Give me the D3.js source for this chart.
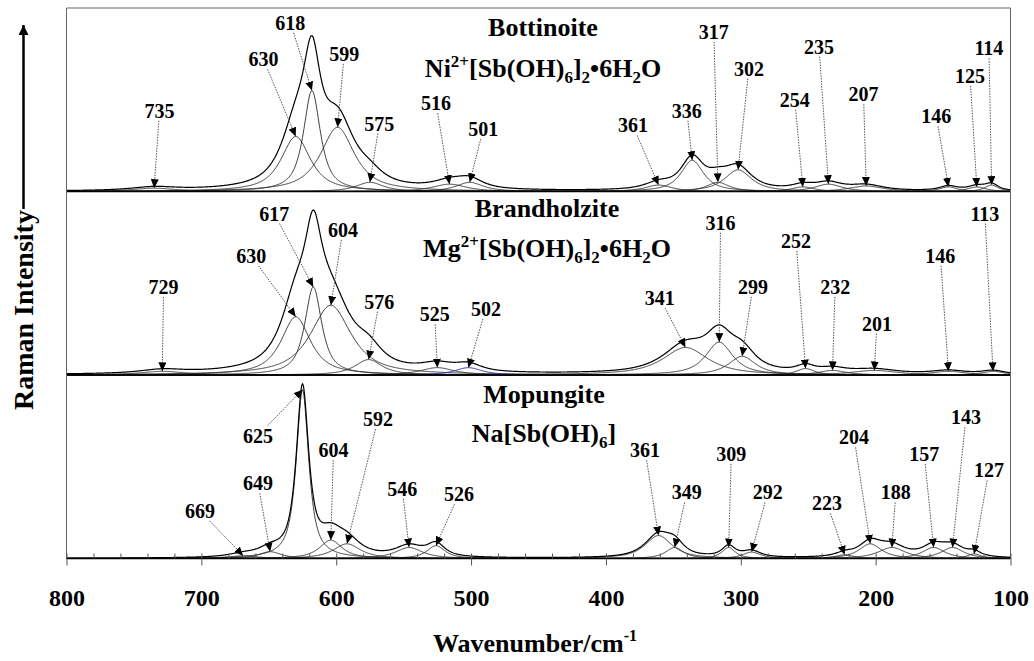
<!DOCTYPE html>
<html>
<head>
<meta charset="utf-8">
<script src="https://cdn.jsdelivr.net/npm/d3@7"></script>
<style>
  body { margin: 0; background: #fff; }
  svg { display: block; font-family: "Liberation Serif", "Times New Roman", serif; font-weight: bold; }
</style>
</head>
<body>
<svg id="chart" width="1034" height="661"></svg>
<script>
// ---- data ----
// band centres (cm-1), band heights (% of panel height), half widths (cm-1)
const bottCentres = [735, 630, 618, 599, 575, 516, 501, 361, 336, 317, 302, 254, 235, 207, 146, 125, 114];
const bottHeights = [1.8, 30, 55, 35, 5, 4, 5, 3.5, 17, 5, 11.8, 2.5, 4, 3, 2.5, 2.5, 3.5];
const bottWidths  = [20, 13, 7.5, 15, 12, 15, 12, 12, 10, 10, 12, 10, 12, 15, 8, 8, 6];

const brandCentres = [729, 630, 617, 604, 576, 525, 502, 341, 316, 299, 252, 232, 201, 146, 113];
const brandHeights = [2, 31.7, 48, 38, 8.4, 4, 4, 15, 17.9, 10.2, 3.5, 2.5, 2.5, 2, 2];
const brandWidths  = [20, 13, 7.5, 18, 12, 15, 12, 20, 12, 12, 8, 12, 20, 15, 10];

const mopCentres = [669, 649, 625, 604, 592, 546, 526, 361, 349, 309, 292, 223, 204, 188, 157, 143, 127];
const mopHeights = [1.5, 3.7, 92, 10, 8, 6, 7, 12.5, 6, 6, 3.5, 2, 8, 6, 6, 6, 2.5];
const mopWidths  = [12, 10, 5.5, 10, 12, 12, 8, 12, 8, 6, 8, 8, 10, 12, 10, 10, 6];

// label anchor points (wavenumber, % of panel height)
const bottLabelWn  = [731, 654, 634, 594, 568, 526, 491, 380, 340, 320, 294, 260, 242, 209, 155, 130, 116];
const bottLabelPct = [44, 72, 92, 75, 37, 48, 34, 36, 44, 87, 67, 50, 79, 53, 41, 63, 78];
const brandLabelWn  = [728, 663, 646, 595, 568, 527, 489, 360, 315, 291, 259, 230, 199, 152, 119];
const brandLabelPct = [48, 65, 88, 79, 40, 33, 36, 42, 83, 48, 73, 48, 28, 65, 88];
const mopLabelWn  = [701, 658, 658, 602, 569, 551, 509, 371, 340, 307, 280, 236, 216, 185, 164, 133, 116];
const mopLabelPct = [26, 41, 67, 59, 76, 38, 35, 59, 36, 57, 36, 30, 66, 36, 57, 77, 48];

const minerals = ["Bottinoite", "Brandholzite", "Mopungite"];
const xMajor = [800, 700, 600, 500, 400, 300, 200, 100];

// formula pieces: [text, "n" normal | "sup" | "sub"]
const formulas = [
  [["Ni", "n"], ["2+", "sup"], ["[Sb(OH)", "n"], ["6", "sub"], ["]", "n"], ["2", "sub"], ["\u20226H", "n"], ["2", "sub"], ["O", "n"]],
  [["Mg", "n"], ["2+", "sup"], ["[Sb(OH)", "n"], ["6", "sub"], ["]", "n"], ["2", "sub"], ["\u20226H", "n"], ["2", "sub"], ["O", "n"]],
  [["Na[Sb(OH)", "n"], ["6", "sub"], ["]", "n"]]
];

const panels = [
  { centres: bottCentres, heights: bottHeights, widths: bottWidths, lw: bottLabelWn, lp: bottLabelPct, blue: -1 },
  { centres: brandCentres, heights: brandHeights, widths: brandWidths, lw: brandLabelWn, lp: brandLabelPct, blue: 6 },
  { centres: mopCentres, heights: mopHeights, widths: mopWidths, lw: mopLabelWn, lp: mopLabelPct, blue: -1 }
];

// ---- layout ----
const plotLeft = 66.5, plotRight = 1010.5, plotTop = 8, panelH = 183.5;
const titleX = [543, 547, 544];
const titleY = [36, 217, 403];
const formulaY = [77, 257, 442];

const svg = d3.select("#chart");
const x = d3.scaleLinear().domain([800, 100]).range([plotLeft, plotRight]);

const defs = svg.append("defs");
defs.append("marker")
  .attr("id", "tip")
  .attr("markerUnits", "userSpaceOnUse")
  .attr("viewBox", "0 0 9 8")
  .attr("markerWidth", 9).attr("markerHeight", 8)
  .attr("refX", 9).attr("refY", 4)
  .attr("orient", "auto")
  .append("path").attr("d", "M0,0L9,4L0,8Z").attr("fill", "#000");
defs.append("marker")
  .attr("id", "bigtip")
  .attr("markerUnits", "userSpaceOnUse")
  .attr("viewBox", "0 0 10 10")
  .attr("markerWidth", 10).attr("markerHeight", 10)
  .attr("refX", 10).attr("refY", 5)
  .attr("orient", "auto")
  .append("path").attr("d", "M0,0L10,5L0,10Z").attr("fill", "#000");

// mostly-Lorentzian band profile
const eta = 0.85;
function band(v, c, h, w) {
  const u = (v - c) / w;
  return h * (eta / (1 + u * u) + (1 - eta) * Math.exp(-Math.LN2 * u * u));
}

const grid = d3.range(800, 99.5, -0.5);

panels.forEach(function (p, i) {
  const base = plotTop + panelH * (i + 1);
  const y = d3.scaleLinear().domain([0, 100]).range([base, base - panelH]);
  const g = svg.append("g");
  const line = d3.line().x(d => x(d[0])).y(d => y(d[1]));

  // components
  p.centres.forEach(function (c, k) {
    const pts = grid.map(v => [v, band(v, c, p.heights[k], p.widths[k])]);
    g.append("path")
      .attr("d", line(pts))
      .attr("fill", "none")
      .attr("stroke", k === p.blue ? "#1b1ba8" : "#2a2a2a")
      .attr("stroke-width", 0.9);
  });

  // envelope = sum of components
  const env = grid.map(v => [v, d3.sum(p.centres, (c, k) => band(v, c, p.heights[k], p.widths[k]))]);
  g.append("path")
    .attr("d", line(env))
    .attr("fill", "none")
    .attr("stroke", "#000")
    .attr("stroke-width", 1.2);

  // panel baseline
  g.append("line")
    .attr("x1", plotLeft).attr("x2", plotRight)
    .attr("y1", base).attr("y2", base)
    .attr("stroke", "#000").attr("stroke-width", 1.6);

  // titles
  g.append("text")
    .attr("x", titleX[i]).attr("y", titleY[i])
    .attr("text-anchor", "middle")
    .attr("font-size", 26)
    .text(minerals[i]);
  const ft = g.append("text")
    .attr("x", titleX[i]).attr("y", formulaY[i])
    .attr("text-anchor", "middle")
    .attr("font-size", 26);
  let shift = 0;
  formulas[i].forEach(function (part) {
    const want = part[1] === "sup" ? -10 : part[1] === "sub" ? 6 : 0;
    ft.append("tspan")
      .attr("dy", want - shift)
      .attr("font-size", part[1] === "n" ? 26 : 17)
      .text(part[0]);
    shift = want;
  });

  // peak labels with dotted arrows
  p.centres.forEach(function (c, k) {
    const lx = x(p.lw[k]), ly = y(p.lp[k]);
    const tx = x(c), ty = y(p.heights[k]);
    const dx = tx - lx, dy = ty - ly;
    const t = Math.min(19 / Math.max(Math.abs(dx), 1e-6), 10 / Math.max(Math.abs(dy), 1e-6));
    g.append("line")
      .attr("x1", lx + dx * t).attr("y1", ly + dy * t)
      .attr("x2", tx).attr("y2", ty)
      .attr("stroke", "#555")
      .attr("stroke-width", 1)
      .attr("stroke-dasharray", "1.5,1.2")
      .attr("marker-end", "url(#tip)");
    g.append("text")
      .attr("x", lx).attr("y", ly)
      .attr("dy", "0.35em")
      .attr("text-anchor", "middle")
      .attr("font-size", 20)
      .text(c);
  });
});

// frame
const plotBottom = plotTop + panelH * 3;
svg.append("line").attr("x1", plotLeft).attr("x2", plotRight).attr("y1", plotTop).attr("y2", plotTop)
  .attr("stroke", "#666").attr("stroke-width", 1);
svg.append("line").attr("x1", plotLeft).attr("x2", plotLeft).attr("y1", plotTop).attr("y2", plotBottom)
  .attr("stroke", "#666").attr("stroke-width", 1);
svg.append("line").attr("x1", plotRight).attr("x2", plotRight).attr("y1", plotTop).attr("y2", plotBottom)
  .attr("stroke", "#666").attr("stroke-width", 1);

// x axis: major ticks below with labels, minor + major ticks above
const axisDown = d3.axisBottom(x).tickValues(xMajor).tickSizeInner(7).tickSizeOuter(0).tickPadding(23);
const gx = svg.append("g").attr("transform", `translate(0,${plotBottom})`).call(axisDown);
gx.select(".domain").remove();
gx.selectAll("line").attr("stroke", "#555");
gx.selectAll("text").attr("font-size", 24).attr("fill", "#000");
gx.attr("font-family", null).attr("font-size", null);

const axisUp = d3.axisTop(x).tickValues(d3.range(800, 99, -20)).tickSizeInner(5).tickSizeOuter(0).tickFormat("");
const gx2 = svg.append("g").attr("transform", `translate(0,${plotBottom})`).call(axisUp);
gx2.select(".domain").remove();
gx2.selectAll("line").attr("stroke", "#555");

// axis titles
const xt = svg.append("text")
  .attr("x", 433).attr("y", 652)
  .attr("font-size", 26);
xt.append("tspan").text("Wavenumber/cm");
xt.append("tspan").attr("dy", -11).attr("font-size", 16).text("-1");

const yt = svg.append("text")
  .attr("transform", "translate(33,410) rotate(-90)")
  .attr("font-size", 28)
  .text("Raman Intensity");
const len = yt.node().getComputedTextLength();
svg.append("line")
  .attr("x1", 23.5).attr("x2", 23.5)
  .attr("y1", 410 - len - 1).attr("y2", 25)
  .attr("stroke", "#000").attr("stroke-width", 2.5)
  .attr("marker-end", "url(#bigtip)");
</script>
</body>
</html>
